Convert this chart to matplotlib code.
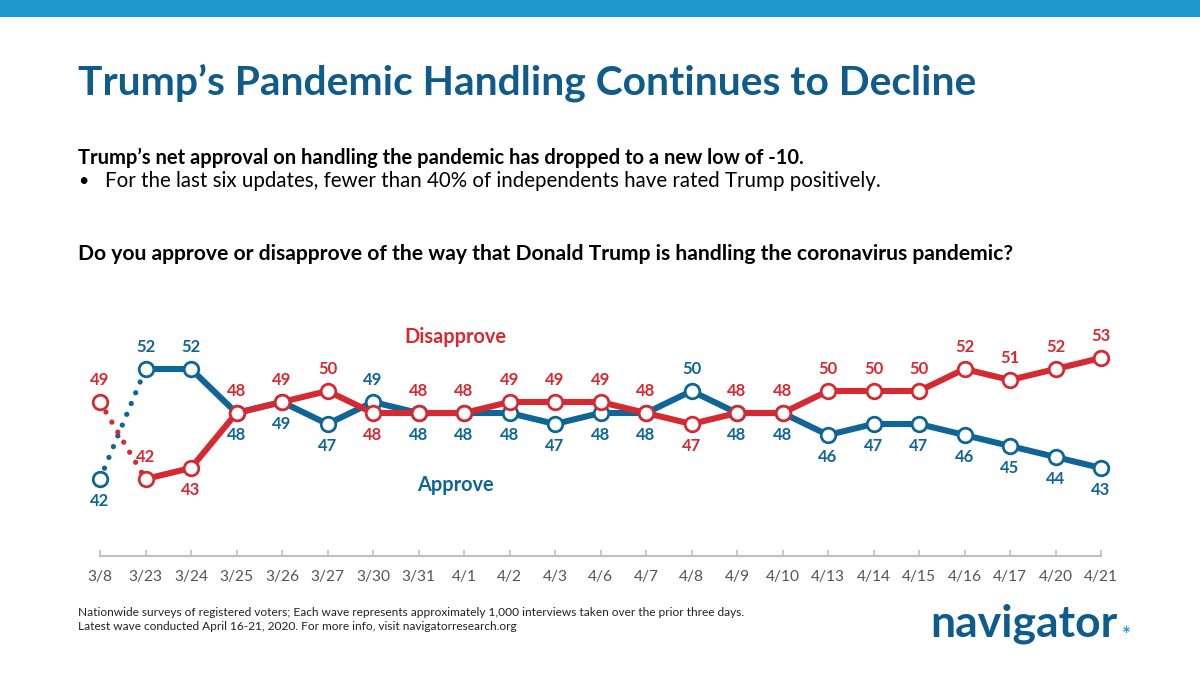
import matplotlib
matplotlib.use("Agg")
import matplotlib.pyplot as plt
from matplotlib.patches import Rectangle

dates = ["3/8", "3/23", "3/24", "3/25", "3/26", "3/27", "3/30", "3/31", "4/1", "4/2",
         "4/3", "4/6", "4/7", "4/8", "4/9", "4/10", "4/13", "4/14", "4/15", "4/16",
         "4/17", "4/20", "4/21"]
approve = [42, 52, 52, 48, 49, 47, 49, 48, 48, 48, 47, 48, 48, 50, 48, 48, 46, 47, 47, 46, 45, 44, 43]
disapprove = [49, 42, 43, 48, 49, 50, 48, 48, 48, 49, 49, 49, 48, 47, 48, 48, 50, 50, 50, 52, 51, 52, 53]

BLUE = "#0f6596"
RED = "#d62a32"
TITLE = "#0e5b8c"
BAR = "#1b99cd"

plt.rcParams['font.family'] = ['Lato', 'DejaVu Sans']

W, H = 1200, 675
fig = plt.figure(figsize=(12, 6.75), dpi=100)
fig.patch.set_facecolor("white")

def fx(x):
    return x / W

def fy(y):
    return 1 - y / H

# top bar
fig.patches.append(Rectangle((0, fy(17)), 1, 17 / H, transform=fig.transFigure,
                             facecolor=BAR, edgecolor="none", zorder=0))

fig.text(fx(78), fy(83), "Trump\u2019s Pandemic Handling Continues to Decline",
         color=TITLE, fontsize=29.3, fontweight="bold", va="center", ha="left")
fig.text(fx(78), fy(158), "Trump\u2019s net approval on handling the pandemic has dropped to a new low of -10.",
         color="black", fontsize=14.5, fontweight="bold", va="center", ha="left")
fig.text(fx(78), fy(181), "\u2022", color="black", fontsize=13, va="center", ha="left")
fig.text(fx(105), fy(181), "For the last six updates, fewer than 40% of independents have rated Trump positively.",
         color="black", fontsize=14.8, va="center", ha="left")
fig.text(fx(78), fy(254), "Do you approve or disapprove of the way that Donald Trump is handling the coronavirus pandemic?",
         color="black", fontsize=15.2, fontweight="bold", va="center", ha="left")

fig.text(fx(78), fy(612), "Nationwide surveys of registered voters; Each wave represents approximately 1,000 interviews taken over the prior three days.",
         color="#222222", fontsize=8.55, va="center", ha="left")
fig.text(fx(78), fy(626), "Latest wave conducted April 16-21, 2020. For more info, visit navigatorresearch.org",
         color="#222222", fontsize=8.55, va="center", ha="left")

fig.text(fx(930), fy(624), "navigator", color=TITLE, fontsize=32, fontweight="bold",
         va="center", ha="left")
fig.text(fx(1126), fy(636), "*", color=BAR, fontsize=15, fontweight="bold", va="center", ha="center")

# chart axes: index 0 -> x=100, index 22 -> x=1101; y 35 -> 556px, 11px per unit
ax_left, ax_right = 100, 1101
y_axis = 556
ymin, ymax = 35, 55
ax = fig.add_axes([fx(ax_left), fy(y_axis), (ax_right - ax_left) / W, (ymax - ymin) * 11 / H])
ax.set_xlim(0, len(dates) - 1)
ax.set_ylim(ymin, ymax)
ax.patch.set_alpha(0)
for s in ["top", "right", "left"]:
    ax.spines[s].set_visible(False)
ax.spines["bottom"].set_color("#bfbfbf")
ax.spines["bottom"].set_linewidth(1.5)
ax.set_yticks([])
x = list(range(len(dates)))
ax.set_xticks(x)
ax.set_xticklabels(dates)
ax.tick_params(axis="x", direction="in", length=4, width=1.2, color="#bfbfbf",
               labelsize=11.2, labelcolor="#555555", pad=10)

lw = 4.4
ms = 10.5
mew = 2.0
# dotted first segment
for vals, col in [(approve, BLUE), (disapprove, RED)]:
    ax.plot(x[:2], vals[:2], color=col, lw=3.8, linestyle=(0, (0.01, 2.2)),
            dash_capstyle="round", clip_on=False, zorder=2)
ax.plot(x[1:], approve[1:], color=BLUE, lw=lw, clip_on=False, zorder=3, solid_capstyle="round")
ax.plot(x[1:], disapprove[1:], color=RED, lw=lw, clip_on=False, zorder=4, solid_capstyle="round")
ax.plot(x, approve, linestyle="none", marker="o", ms=ms, mfc="white", mec=BLUE, mew=mew,
        clip_on=False, zorder=5)
ax.plot(x, disapprove, linestyle="none", marker="o", ms=ms, mfc="white", mec=RED, mew=mew,
        clip_on=False, zorder=6)

off = 15.5
for i in x:
    a, d = approve[i], disapprove[i]
    a_up = a > d
    d_up = d >= a or i == 1
    ax.annotate(str(a), (i, a), xytext=(0, off if a_up else -off), textcoords="offset points",
                ha="center", va="center", color=BLUE, fontsize=12, fontweight="bold")
    ax.annotate(str(d), (i, d), xytext=(0, off if d_up else -off), textcoords="offset points",
                ha="center", va="center", color=RED, fontsize=12, fontweight="bold")

fig.text(fx(455), fy(337), "Disapprove", color=RED, fontsize=14.4, fontweight="bold", ha="center", va="center")
fig.text(fx(455), fy(485), "Approve", color=BLUE, fontsize=14.4, fontweight="bold", ha="center", va="center")

fig.savefig("out.png", dpi=100, facecolor="white")
